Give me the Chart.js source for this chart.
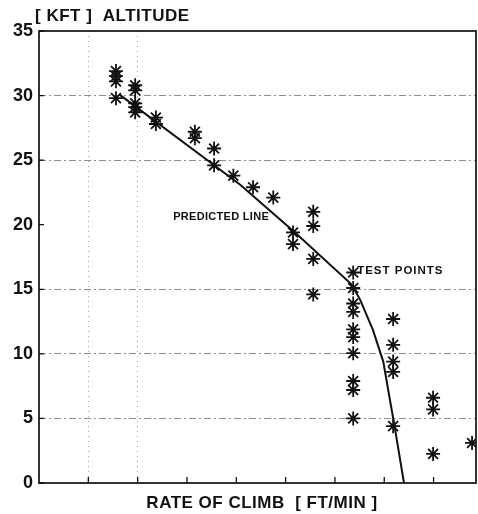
<!DOCTYPE html>
<html>
<head>
<meta charset="utf-8">
<script src="https://cdn.jsdelivr.net/npm/chart.js@4.4.1/dist/chart.umd.min.js"></script>
<style>
  html, body { margin: 0; padding: 0; background: #fff; }
  #wrap { width: 478px; height: 514px; }
</style>
</head>
<body>
<div id="wrap"><canvas id="climb-chart" width="478" height="514"></canvas></div>
<script>
// ─── DATA ─────────────────────────────────────────────────
// x is in tick divisions of rate of climb (no numbers printed on the original)
const testX = [1.56, 1.56, 1.56, 1.56, 1.95, 1.95, 1.95, 1.95, 1.95, 2.37, 2.37,
  3.16, 3.16, 3.55, 3.55, 3.94, 4.34, 4.75, 5.56, 5.56, 5.15, 5.15, 5.56, 5.56,
  6.37, 6.37, 6.37, 6.37, 6.37, 6.37, 6.37, 6.37, 6.37, 6.37,
  7.18, 7.18, 7.18, 7.18, 7.18, 7.99, 7.99, 7.99, 8.78];
const testY = [31.9, 31.5, 31.1, 29.8, 30.8, 30.4, 29.4, 29.1, 28.7, 28.3, 27.8,
  27.2, 26.7, 25.9, 24.6, 23.8, 22.9, 22.1, 21.0, 19.9, 19.4, 18.5, 17.35, 14.6,
  16.3, 15.1, 13.9, 13.25, 11.9, 11.3, 10.05, 7.9, 7.2, 5.0,
  12.7, 10.7, 9.4, 8.6, 4.4, 6.6, 5.7, 2.25, 3.1];

const predX = [1.64, 4.08, 5.19, 6.33, 6.51, 6.77, 6.98, 7.08, 7.20, 7.40];
const predY = [30.05, 23.1, 19.4, 15.4, 14.2, 11.85, 9.4, 7.2, 4.6, 0];

const xTicks = [1, 2, 3, 4, 5, 6, 7, 8];
const yTicks = [0, 5, 10, 15, 20, 25, 30, 35];
const yGridShown = [5, 10, 15, 25, 30];
const xGridShown = [1, 2];

const FONT = '"Liberation Sans", Arial, Helvetica, sans-serif';

// ─── FRAME, INNER TICKS AND TEXT ──────────────────────────
const framePlugin = {
  id: 'frame',
  afterDatasetsDraw(chart) {
    const { ctx, chartArea: a, scales: { x, y } } = chart;
    ctx.save();
    ctx.strokeStyle = '#111';
    ctx.lineWidth = 1.7;
    ctx.strokeRect(a.left, a.top, a.right - a.left, a.bottom - a.top);
    ctx.lineWidth = 1.3;
    ctx.beginPath();
    xTicks.forEach(v => {
      const px = x.getPixelForValue(v);
      ctx.moveTo(px, a.bottom); ctx.lineTo(px, a.bottom - 6);
    });
    yTicks.forEach(v => {
      const py = y.getPixelForValue(v);
      ctx.moveTo(a.left, py); ctx.lineTo(a.left + 5, py);
    });
    ctx.stroke();

    ctx.fillStyle = '#111';
    ctx.textBaseline = 'middle';
    ctx.textAlign = 'left';
    ctx.font = 'bold 17px ' + FONT;
    ctx.letterSpacing = '0.5px';
    ctx.fillText('[ KFT ]  ALTITUDE', 35, 16);
    ctx.textAlign = 'center';
    ctx.fillText('RATE OF CLIMB  [ FT/MIN ]', 262, 503);
    ctx.textAlign = 'left';
    ctx.font = 'bold 11px ' + FONT;
    ctx.letterSpacing = '0.3px';
    ctx.fillText('PREDICTED LINE', x.getPixelForValue(2.72), y.getPixelForValue(20.6));
    ctx.font = 'bold 11.5px ' + FONT;
    ctx.letterSpacing = '1px';
    ctx.fillText('TEST POINTS', x.getPixelForValue(6.45), y.getPixelForValue(16.45));
    ctx.restore();
  }
};

// ─── CHART ────────────────────────────────────────────────
const ctx = document.getElementById('climb-chart').getContext('2d');
new Chart(ctx, {
  type: 'scatter',
  data: {
    datasets: [{
      label: 'Predicted line',
      data: predX.map((v, i) => ({ x: v, y: predY[i] })),
      showLine: true,
      borderColor: '#111',
      borderWidth: 2,
      pointRadius: 0,
      tension: 0,
    }, {
      label: 'Test points',
      data: testX.map((v, i) => ({ x: v, y: testY[i] })),
      pointStyle: 'star',
      pointRadius: 7,
      borderColor: '#111',
      borderWidth: 1.8,
      backgroundColor: '#111',
    }]
  },
  options: {
    responsive: false,
    animation: false,
    layout: { autoPadding: false, padding: { top: 31, right: 2, bottom: 0, left: 0 } },
    plugins: {
      legend: { display: false },
      tooltip: { enabled: false },
      title: { display: false }
    },
    scales: {
      x: {
        type: 'linear', min: 0, max: 8.86,
        afterBuildTicks: s => { s.ticks = xTicks.map(v => ({ value: v })); },
        afterFit: s => { s.height = 31; },
        ticks: { display: false },
        grid: {
          drawTicks: false,
          lineWidth: 1,
          color: c => xGridShown.includes(c.tick && c.tick.value) ? 'rgba(0,0,0,0.35)' : 'rgba(0,0,0,0)'
        },
        border: { display: false, dash: [1, 4] }
      },
      y: {
        type: 'linear', min: 0, max: 35,
        afterBuildTicks: s => { s.ticks = yTicks.map(v => ({ value: v })); },
        afterFit: s => { s.width = 39; },
        ticks: { color: '#111', padding: 6, font: { family: FONT, size: 18, weight: 'bold' } },
        grid: {
          drawTicks: false,
          lineWidth: 1,
          color: c => yGridShown.includes(c.tick && c.tick.value) ? 'rgba(0,0,0,0.45)' : 'rgba(0,0,0,0)'
        },
        border: { display: false, dash: [7, 3, 2, 3] }
      }
    }
  },
  plugins: [framePlugin]
});
</script>
</body>
</html>
